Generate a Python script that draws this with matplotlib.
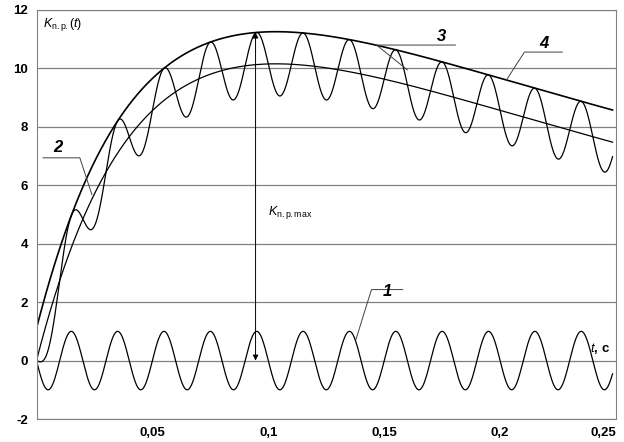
import numpy as np
import matplotlib.pyplot as plt
from matplotlib.ticker import FuncFormatter

plt.rcParams['font.family'] = ['Liberation Sans', 'DejaVu Sans']
plt.rcParams['mathtext.fontset'] = 'custom'
plt.rcParams['mathtext.rm'] = 'Liberation Sans'
plt.rcParams['mathtext.it'] = 'Liberation Sans:italic'

# parameters
freq = 50.0          # Hz, oscillation of curves 1 and 2
amp1 = 1.0           # amplitude of curve 1
A3 = 16.2            # scale of aperiodic curve 3
tau_rise = 0.045
tau_decay = 0.325
offset4 = 1.1        # envelope 4 above curve 3 (= amplitude in curve 2)
t_max = 0.0945
xticks = [0.05, 0.1, 0.15, 0.2, 0.25]
yticks = [-2, 0, 2, 4, 6, 8, 10, 12]

t = np.linspace(0, 0.2485, 3000)
c1 = -amp1 * np.sin(2 * np.pi * freq * t)
c3 = A3 * (np.exp(-t / tau_decay) - np.exp(-t / tau_rise))
c4 = c3 + offset4
c2 = c3 + offset4 * c1
k_max = A3 * (np.exp(-t_max / tau_decay) - np.exp(-t_max / tau_rise)) + offset4

fig = plt.figure(figsize=(6.24, 4.42), dpi=100)
ax = fig.add_axes([36.5/624, 23/442, 579.5/624, 409/442])
for y in yticks:
    ax.axhline(y, color='#808080', lw=0.9)
for s in ax.spines.values():
    s.set_color('#808080')
kw = dict(color='black', lw=0.9)
ax.plot(t, c1, **kw); ax.plot(t, c2, **kw); ax.plot(t, c3, **kw); ax.plot(t, c4, color='black', lw=1.2)
ax.set_xlim(0, 0.2485); ax.set_ylim(-2, 12)
ax.set_xticks(xticks); ax.set_yticks(yticks)
ax.xaxis.set_major_formatter(FuncFormatter(lambda v, p: f"{v:g}".replace('.', ',')))
ax.yaxis.set_major_formatter(FuncFormatter(lambda v, p: f"{int(v)}"))
ax.tick_params(labelsize=9.5, length=0, pad=6)
for lb in ax.get_xticklabels() + ax.get_yticklabels():
    lb.set_fontweight('bold')
ax.get_xticklabels()[-1].set_ha('right')

ax.annotate('', xy=(t_max, k_max), xytext=(t_max, 0),
            arrowprops=dict(arrowstyle='<|-|>', lw=0.7, color='black', mutation_scale=8,
                            shrinkA=0, shrinkB=0))
ax.text(0.0997, 5.06, r'$K_{\mathrm{n.p.max}}$', fontsize=9, va='center')
ax.text(0.003, 11.5, r'$K_{\mathrm{n.p.}}(t)$', fontsize=9, va='center')
ax.text(0.2475, 0.15, r'$t$, c', fontsize=9.5, ha='right', va='bottom', fontweight='bold')

def lab(s, xt, yt, pts):
    xs, ys = zip(*pts)
    ax.plot(xs, ys, color='#404040', lw=0.7)
    ax.text(xt, yt, s, fontsize=12, style='italic', fontweight='bold', ha='center', va='center')
lab('1', 0.1515, 2.35, [(0.1378, 0.72), (0.1445, 2.43), (0.158, 2.43)])
lab('2', 0.0093, 7.28, [(0.0028, 6.94), (0.0187, 6.94), (0.0239, 5.68)])
lab('3', 0.1747, 11.1, [(0.16, 9.95), (0.1467, 10.8), (0.1807, 10.8)])
lab('4', 0.219, 10.87, [(0.2027, 9.6), (0.2105, 10.56), (0.2268, 10.56)])
fig.savefig('out.png', dpi=100)
